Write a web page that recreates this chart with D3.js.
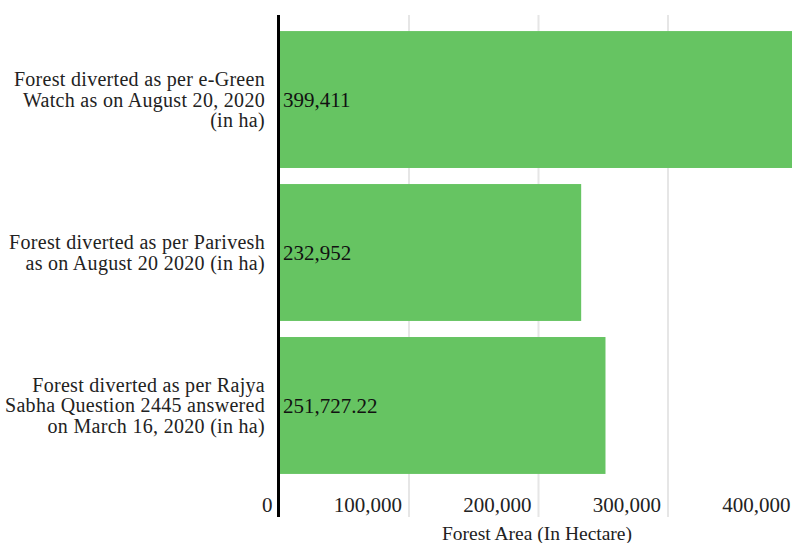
<!DOCTYPE html>
<html lang="en">
<head>
    <meta charset="UTF-8">
    <title>Forest Diversion</title>
    <script src="https://d3js.org/d3.v7.min.js"></script>
    <style>
        body { margin: 0; background: #fff; }
        svg { font-family: "Liberation Serif", serif; }
    </style>
</head>
<body>
    <svg width="792" height="543"></svg>

    <script>
        // Data
        const categories = [
            ["Forest diverted as per e-Green", "Watch as on August 20, 2020", "(in ha)"],
            ["Forest diverted as per Parivesh", "as on August 20 2020 (in ha)"],
            ["Forest diverted as per Rajya", "Sabha Question 2445 answered", "on March 16, 2020 (in ha)"]
        ];
        const values = [399411, 232952, 251727.22];
        const valueLabels = ["399,411", "232,952", "251,727.22"];
        const ticks = [0, 100000, 200000, 300000, 400000];

        const width = 792, height = 543;
        const svg = d3.select("svg");

        const x = d3.scaleLinear().domain([0, 400000]).range([279.5, 797.5]);
        const y = d3.scaleBand().domain(d3.range(values.length)).range([15, 490]).padding(0.105);

        const plot = svg.append("g");
        svg.append("clipPath").attr("id", "clip")
            .append("rect").attr("x", 0).attr("y", 0).attr("width", width).attr("height", height);
        plot.attr("clip-path", "url(#clip)");

        // gridlines
        plot.selectAll(".grid")
            .data(ticks.slice(1))
            .enter().append("line")
            .attr("x1", d => x(d)).attr("x2", d => x(d))
            .attr("y1", 15).attr("y2", 517)
            .attr("stroke", "#e6e6e6").attr("stroke-width", 2);

        // bars
        plot.selectAll(".bar")
            .data(values)
            .enter().append("rect")
            .attr("x", x(0) + 0.5)
            .attr("y", (d, i) => y(i))
            .attr("width", d => x(d) - x(0) - 0.5)
            .attr("height", y.bandwidth())
            .attr("fill", "#66c462");

        // zero axis line
        svg.append("line")
            .attr("x1", 278.5).attr("x2", 278.5)
            .attr("y1", 15).attr("y2", 517)
            .attr("stroke", "#000").attr("stroke-width", 3);

        // value labels
        svg.selectAll(".val")
            .data(valueLabels)
            .enter().append("text")
            .attr("x", 283)
            .attr("y", (d, i) => y(i) + y.bandwidth() / 2)
            .attr("dy", "0.35em")
            .attr("font-size", 21)
            .attr("fill", "#111")
            .text(d => d);

        // category labels
        const cat = svg.selectAll(".cat")
            .data(categories)
            .enter().append("text")
            .attr("text-anchor", "end")
            .attr("font-size", 20)
            .attr("letter-spacing", 0.3)
            .attr("fill", "#222");
        cat.each(function (lines, i) {
            const cy = y(i) + y.bandwidth() / 2;
            const lh = 20.5;
            const t0 = cy - (lines.length - 1) * lh / 2;
            d3.select(this).selectAll("tspan")
                .data(lines)
                .enter().append("tspan")
                .attr("x", 265)
                .attr("y", (d, j) => t0 + j * lh)
                .attr("dy", "0.35em")
                .text(d => d);
        });

        // tick labels
        svg.selectAll(".tick")
            .data(ticks)
            .enter().append("text")
            .attr("x", d => x(d) - 7)
            .attr("y", 505)
            .attr("dy", "0.35em")
            .attr("text-anchor", "end")
            .attr("font-size", 21)
            .attr("fill", "#222")
            .text(d => d3.format(",")(d));

        // axis title
        svg.append("text")
            .attr("x", 537)
            .attr("y", 533)
            .attr("dy", "0.35em")
            .attr("text-anchor", "middle")
            .attr("font-size", 19.5)
            .attr("fill", "#222")
            .text("Forest Area (In Hectare)");
    </script>
</body>
</html>
